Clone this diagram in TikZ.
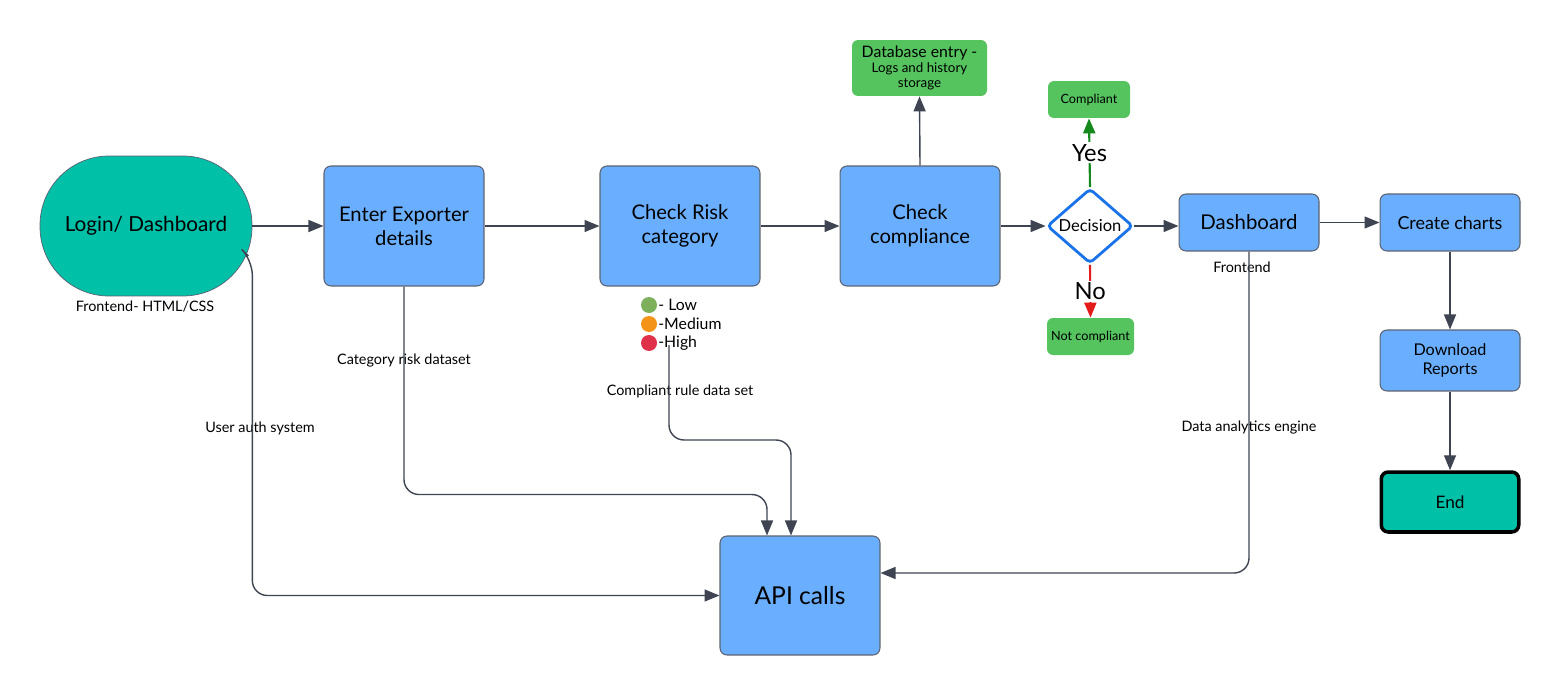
\documentclass[tikz,border=0pt]{standalone}
\usepackage{fontspec}
\setmainfont{Lato}
\usetikzlibrary{positioning,arrows.meta,calc,shapes.geometric}

\definecolor{boxblue}{HTML}{6AAFFF}
\definecolor{boxedge}{HTML}{5B6272}
\definecolor{tealfill}{HTML}{00C0A8}
\definecolor{okgreen}{HTML}{55C45F}
\definecolor{flowgray}{HTML}{3E4451}
\definecolor{decblue}{HTML}{1A73E8}
\definecolor{yesgreen}{HTML}{16891C}
\definecolor{nored}{HTML}{E31B1B}
\definecolor{lowgreen}{HTML}{7CB05B}
\definecolor{medorange}{HTML}{F39318}
\definecolor{highred}{HTML}{E0314B}

\begin{document}
\begin{tikzpicture}[x=0.02cm, y=-0.02cm,
  stepbox/.style={draw=boxedge, fill=boxblue, rounded corners=0.14cm, line width=0.6pt,
    align=center, inner sep=0pt, font=\fontsize{11.5}{13.5}\selectfont},
  greenbox/.style={fill=okgreen, rounded corners=0.12cm, align=center, inner sep=0pt,
    font=\fontsize{7.2}{8.5}\selectfont},
  lbl/.style={font=\fontsize{8.2}{10}\selectfont},
  flow/.style={draw=flowgray, line width=0.8pt, -{Triangle[length=0.3cm, width=0.24cm]}},
  dot/.style={circle, inner sep=0pt, minimum size=0.32cm},
  legtxt/.style={anchor=west, inner sep=0pt, font=\fontsize{9}{10}\selectfont}]
\useasboundingbox (0,0) rectangle (1561,696);
% main row
\node[draw=boxedge, fill=tealfill, rounded corners=1.38cm, minimum width=4.24cm, minimum height=2.8cm,
  inner sep=0pt, font=\fontsize{11.8}{14}\selectfont] (login) at (146,226) {Login/ Dashboard};
\node[stepbox, minimum width=3.2cm, minimum height=2.4cm] (enter) at (404,226) {Enter Exporter\\details};
\node[stepbox, minimum width=3.2cm, minimum height=2.4cm] (risk) at (680,226) {Check Risk\\category};
\node[stepbox, minimum width=3.2cm, minimum height=2.4cm] (comply) at (920,226) {Check\\compliance};
\node[diamond, draw=decblue, fill=white, line width=1.6pt, rounded corners=0.08cm, inner sep=0pt,
  minimum width=1.72cm, minimum height=1.12cm, font=\fontsize{9.4}{11}\selectfont] (decide) at (1090,226) {Decision};
\node[stepbox, minimum width=2.8cm, minimum height=1.14cm, font=\fontsize{11.6}{13}\selectfont] (dash) at (1249,222.5) {Dashboard};
\node[stepbox, minimum width=2.8cm, minimum height=1.14cm, font=\fontsize{10.2}{12}\selectfont] (charts) at (1450,222.5) {Create charts};
\node[stepbox, minimum width=2.8cm, minimum height=1.22cm, font=\fontsize{9.2}{11}\selectfont] (reports) at (1450,360.5) {Download\\Reports};
\node[draw=black, fill=tealfill, line width=2pt, rounded corners=0.14cm, minimum width=2.75cm, minimum height=1.2cm,
  font=\fontsize{9.8}{11}\selectfont] (finish) at (1450,502) {End};
\node[stepbox, minimum width=3.2cm, minimum height=2.38cm, font=\fontsize{14}{16}\selectfont] (api) at (800,595.5) {API calls};
% side boxes
\node[greenbox, minimum width=2.7cm, minimum height=1.12cm] (dbase) at (919.5,68)
  {{\fontsize{9}{8.5}\selectfont Database entry -}\\{\fontsize{7.6}{8.5}\selectfont Logs and history}\\{\fontsize{7.6}{8.5}\selectfont storage}};
\node[greenbox, minimum width=1.64cm, minimum height=0.74cm] (okbox) at (1089,99.5) {Compliant};
\node[greenbox, minimum width=1.74cm, minimum height=0.74cm] (nobox) at (1090.5,336.5) {Not compliant};
% risk legend
\node[dot, fill=lowgreen] (low) at (649,305) {};
\node[dot, fill=medorange] (med) at (649,324) {};
\node[dot, fill=highred] (high) at (649,343) {};
\node[legtxt] (lowtxt) at (658,305) {- Low};
\node[legtxt] (medtxt) at (658,324) {-Medium};
\node[legtxt] (hightxt) at (658,343) {-High};
\coordinate (rulesrc) at (669,345);
% labels
\node[lbl] (fe1) at (145,307) {Frontend- HTML/CSS};
\node[lbl] (fe2) at (1242,267) {Frontend};
\node[lbl] (catlbl) at (404,361) {Category risk dataset};
\node[lbl] (rulelbl) at (680,391) {Compliant rule data set};
\node[lbl] (authlbl) at (260,428) {User auth system};
\node[lbl] (analbl) at (1249,428) {Data analytics engine};
% flow
\draw[flow] (login.east) -- (enter.west);
\draw[flow] (enter.east) -- (risk.west);
\draw[flow] (risk.east) -- (comply.west);
\draw[flow] (comply.east) -- (decide.west);
\draw[flow] (decide.east) -- (decide.east -| dash.west);
\draw[flow] (dash.east) -- (charts.west);
\draw[flow] (charts.south) -- (reports.north);
\draw[flow] (reports.south) -- (finish.north);
\draw[flow] (comply.north) -- (dbase.south);
% decision outcomes
\draw[draw=yesgreen, line width=1.2pt, -{Triangle[length=0.3cm, width=0.24cm]}] (decide.north) -- (okbox.south)
  node[midway, fill=white, inner sep=1pt, font=\fontsize{13.5}{15}\selectfont] (yes) {Yes};
\draw[draw=nored, line width=1.2pt, -{Triangle[length=0.3cm, width=0.24cm]}] (decide.south) -- (nobox.north)
  node[midway, fill=white, inner sep=1pt, font=\fontsize{13.5}{15}\selectfont] (no) {No};
% data sources into API
\draw[flow, rounded corners=0.3cm] ($(login.east)+(-4,30)$) -- ++(4,4) |- (api.west);
\draw[flow, rounded corners=0.3cm] (enter.south) -- ++(0,208) -| ($(api.north)+(-33,0)$);
\draw[flow, rounded corners=0.3cm] (rulesrc) -- ++(0,95) -| ($(api.north)+(-9,0)$);
\draw[flow, rounded corners=0.3cm] (dash.south) |- ($(api.east)+(0,-22.5)$);
\end{tikzpicture}
\end{document}
